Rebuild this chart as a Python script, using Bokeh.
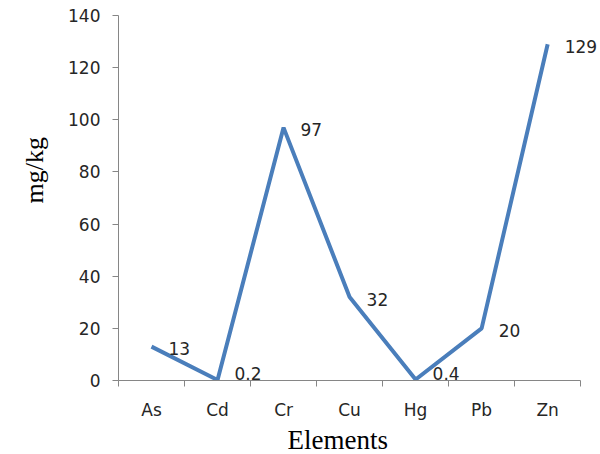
from bokeh.plotting import figure
from bokeh.models import Range1d, FixedTicker, ColumnDataSource, LabelSet, Title
from bokeh.core.properties import value
from bokeh.embed import file_html
from bokeh.resources import INLINE

elements = ["As", "Cd", "Cr", "Cu", "Hg", "Pb", "Zn"]
values = [13, 0.2, 97, 32, 0.4, 20, 129]
value_labels = ["13", "0.2", "97", "32", "0.4", "20", "129"]
y_ticks = [0, 20, 40, 60, 80, 100, 120, 140]
y_max = 140

n = len(elements)
xpos = [i + 1 for i in range(n)]

# frame geometry (pixels): axes box 114..580 x 15..380; frame extended right for labels
left, top, bottom, W, H = 114, 15, 380, 600, 454
xunit = (580 - left) / n
yunit = (bottom - top) / y_max
x_end = 0.5 + (W - left) / xunit

# label offsets (px): slightly below the point, kept inside the frame near zero
label_dy = -2
dys = [max(label_dy, 7 - v * yunit) for v in values]
src = ColumnDataSource(dict(x=xpos, y=values, lab=value_labels, dy=dys))

p = figure(width=W, height=H, output_backend="svg", toolbar_location=None,
           x_range=Range1d(0.5, x_end), y_range=Range1d(0, y_max),
           min_border_left=left, min_border_right=0, min_border_top=top,
           min_border_bottom=H - bottom,
           title="mg/kg", title_location="left")
p.outline_line_color = None
p.xgrid.grid_line_color = None
p.ygrid.grid_line_color = None
p.background_fill_color = "white"

p.title.text_font = "Liberation Serif"
p.title.text_font_size = "26px"
p.title.text_font_style = "normal"
p.title.text_color = "black"
p.title.align = "left"
p.title.offset = bottom - 203
p.title.standoff = 34

p.line("x", "y", source=src, line_color="#4A7EBB", line_width=4)

labels = LabelSet(x="x", y="y", text="lab", source=src, x_offset=17, y_offset="dy",
                  text_align="left", text_baseline="middle",
                  text_font=value("DejaVu Sans"), text_font_size="17px", text_color="#262626",
                  level="overlay")
p.add_layout(labels)

axis_color = "#868686"
# x axis
p.xaxis.bounds = (0.5, n + 0.5)
p.xaxis.ticker = FixedTicker(ticks=xpos, minor_ticks=[i + 0.5 for i in range(n + 1)])
p.xaxis.major_label_overrides = {x: e for x, e in zip(xpos, elements)}
p.xaxis.major_tick_line_color = None
p.xaxis.minor_tick_line_color = axis_color
p.xaxis.minor_tick_in = 0
p.xaxis.minor_tick_out = 6
p.xaxis.axis_line_color = axis_color
p.xaxis.major_label_text_font = "DejaVu Sans"
p.xaxis.major_label_text_font_size = "17px"
p.xaxis.major_label_text_color = "#262626"
p.xaxis.major_label_standoff = 13

xtitle = Title(text="Elements", align="left", offset=169, standoff=0,
               text_font="Liberation Serif", text_font_size="27px",
               text_font_style="normal", text_color="black")
p.add_layout(xtitle, "below")

# y axis
p.yaxis.bounds = (0, y_max)
p.yaxis.ticker = FixedTicker(ticks=y_ticks)
p.yaxis.minor_tick_line_color = None
p.yaxis.major_tick_in = 0
p.yaxis.major_tick_out = 6
p.yaxis.major_tick_line_color = axis_color
p.yaxis.axis_line_color = axis_color
p.yaxis.major_label_text_font = "DejaVu Sans"
p.yaxis.major_label_text_font_size = "17px"
p.yaxis.major_label_text_color = "#262626"
p.yaxis.major_label_standoff = 12

open("out.html", "w").write(file_html(p, INLINE))
